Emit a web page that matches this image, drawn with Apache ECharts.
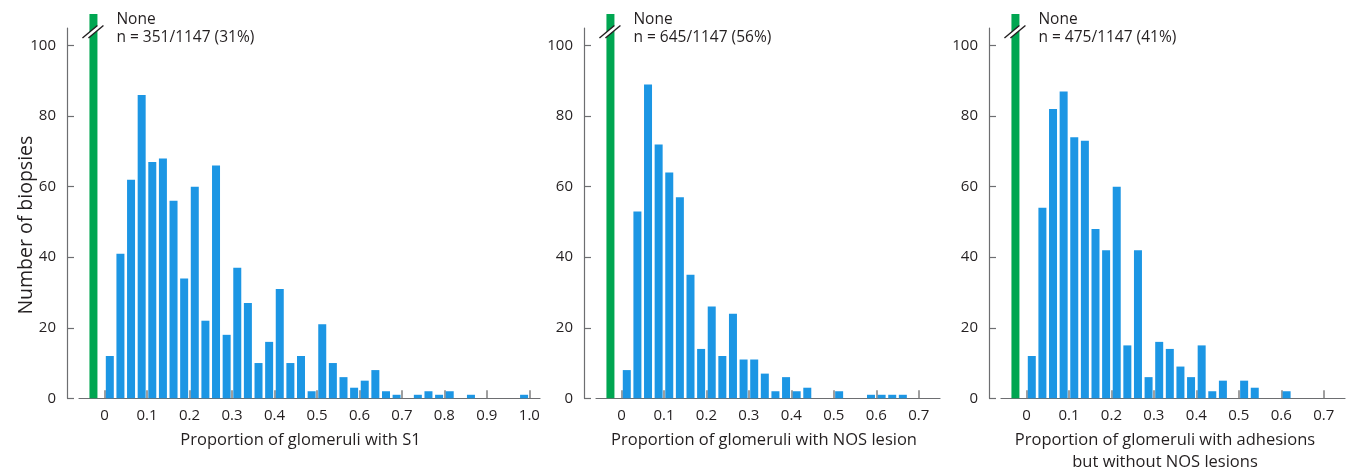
<!DOCTYPE html>
<html>
<head>
<meta charset="utf-8">
<script src="https://cdn.jsdelivr.net/npm/echarts@6/dist/echarts.min.js"></script>
<style>
  html, body { margin: 0; padding: 0; background: #fff; }
  #chart { width: 1352px; height: 472px; }
</style>
</head>
<body>
<div id="chart"></div>
<script>
// histogram counts, bins of 0.025 starting at 0
var binWidth = 0.025;
var s1Counts = [12, 41, 62, 86, 67, 68, 56, 34, 60, 22, 66, 18, 37, 27, 10, 16, 31, 10, 12, 2,
                21, 10, 6, 3, 5, 8, 2, 1, 0, 1, 2, 1, 2, 0, 1, 0, 0, 0, 0, 1];
var nosCounts = [8, 53, 89, 72, 64, 57, 35, 14, 26, 12, 24, 11, 11, 7, 2, 6, 2, 3, 0, 0,
                 2, 0, 0, 1, 1, 1, 1, 0];
var adhCounts = [12, 54, 82, 87, 74, 73, 48, 42, 60, 15, 42, 6, 16, 14, 9, 6, 15, 2, 5, 0,
                 5, 3, 0, 0, 2, 0, 0, 0];

// "None" bars (off scale, drawn broken)
var noneCounts = [351, 645, 475];
var noneLabels = ['n = 351/1147 (31%)', 'n = 645/1147 (56%)', 'n = 475/1147 (41%)'];
var noneX = -0.026;
var noneCap = 109;   // where the broken bar is cut off
var breakAt = 104;

var xNames = ['Proportion of glomeruli with S1',
              'Proportion of glomeruli with NOS lesion',
              'Proportion of glomeruli with adhesions\nbut without NOS lesions'];
var xTicksLong = [0, 0.1, 0.2, 0.3, 0.4, 0.5, 0.6, 0.7, 0.8, 0.9, 1.0];
var xTicksShort = [0, 0.1, 0.2, 0.3, 0.4, 0.5, 0.6, 0.7];
var yTicks = [0, 20, 40, 60, 80, 100];

var panels = [
  { counts: s1Counts, ticks: xTicksLong, xMax: 1.025, left: 79, width: 461, nameShift: 18 },
  { counts: nosCounts, ticks: xTicksShort, xMax: 0.75, left: 596, width: 344, nameShift: 8 },
  { counts: adhCounts, ticks: xTicksShort, xMax: 0.75, left: 1001, width: 344, nameShift: 16 }
];

var blue = '#1c96e4';
var green = '#00a651';
var ink = '#231f20';
var axisGrey = '#6d6e71';
var font = 'Open Sans';

var chart = echarts.init(document.getElementById('chart'));

var grids = [], xAxes = [], yAxes = [], series = [];

panels.forEach(function (p, i) {
  grids.push({ left: p.left, width: p.width, top: 28, bottom: 73.7, outerBoundsMode: 'none' });

  xAxes.push({
    gridIndex: i,
    type: 'value',
    min: -0.06,
    max: p.xMax,
    name: xNames[i],
    nameLocation: 'middle',
    nameGap: 31,
    nameMoveOverlap: false,
    nameTextStyle: { fontFamily: font, fontSize: 16.5, color: ink, lineHeight: 22, padding: [0, p.nameShift, 0, 0] },
    axisLine: { onZero: false, lineStyle: { color: axisGrey, width: 1.2 } },
    axisTick: { inside: true, length: 8, customValues: p.ticks, lineStyle: { color: '#808080', width: 1.5 } },
    axisLabel: {
      customValues: p.ticks,
      margin: 9,
      fontFamily: font, fontSize: 15, color: ink, lineHeight: 16,
      formatter: function (v) { return v === 0 ? '0' : v.toFixed(1); }
    },
    splitLine: { show: false }
  });

  yAxes.push({
    gridIndex: i,
    type: 'value',
    min: 0,
    max: 105,
    offset: 12,
    name: i === 0 ? 'Number of biopsies' : '',
    nameLocation: 'middle',
    nameGap: 31,
    nameMoveOverlap: false,
    nameTextStyle: { fontFamily: font, fontSize: 19.5, color: ink, padding: [0, 24, 0, 0] },
    axisLine: { show: true, onZero: false, lineStyle: { color: axisGrey, width: 1.2 } },
    axisTick: { show: true, inside: true, length: 7, customValues: yTicks, lineStyle: { color: axisGrey, width: 1.2 } },
    axisLabel: { customValues: yTicks, margin: 11, fontFamily: font, fontSize: 15, color: ink },
    splitLine: { show: false }
  });

  var data = [{
    value: [noneX, Math.min(noneCounts[i], noneCap)],
    itemStyle: { color: green }
  }];
  p.counts.forEach(function (c, k) {
    data.push([(k + 0.5) * binWidth, c]);
  });

  series.push({
    type: 'bar',
    xAxisIndex: i,
    yAxisIndex: i,
    barWidth: 8,
    clip: false,
    itemStyle: { color: blue },
    data: data,
    silent: true
  });

  // break marks over the "None" bar plus its annotation
  series.push({
    type: 'custom',
    xAxisIndex: i,
    yAxisIndex: i,
    clip: false,
    z: 5,
    silent: true,
    data: [[noneX, breakAt]],
    renderItem: function (params, api) {
      var c = api.coord([api.value(0), api.value(1)]);
      var x = c[0], y = c[1];
      return {
        type: 'group',
        children: [
          { type: 'polygon', shape: { points: [[x - 11, y + 6.5], [x + 4, y - 6], [x + 10, y - 6], [x - 5, y + 6.5]] },
            style: { fill: '#fff' } },
          { type: 'line', shape: { x1: x - 11, y1: y + 6.5, x2: x + 4, y2: y - 6 },
            style: { stroke: ink, lineWidth: 1.4 } },
          { type: 'line', shape: { x1: x - 5, y1: y + 6.5, x2: x + 10, y2: y - 6 },
            style: { stroke: ink, lineWidth: 1.4 } },
          { type: 'text', x: x + 23, y: y - 11.5,
            style: { text: 'None', font: '15.5px "' + font + '"', fill: ink, verticalAlign: 'middle' } },
          { type: 'text', x: x + 23, y: y + 6,
            style: { text: noneLabels[i], font: '15.5px "' + font + '"', fill: ink, verticalAlign: 'middle' } }
        ]
      };
    }
  });
});

chart.setOption({
  animation: false,
  backgroundColor: '#fff',
  grid: grids,
  xAxis: xAxes,
  yAxis: yAxes,
  series: series
});
</script>
</body>
</html>
